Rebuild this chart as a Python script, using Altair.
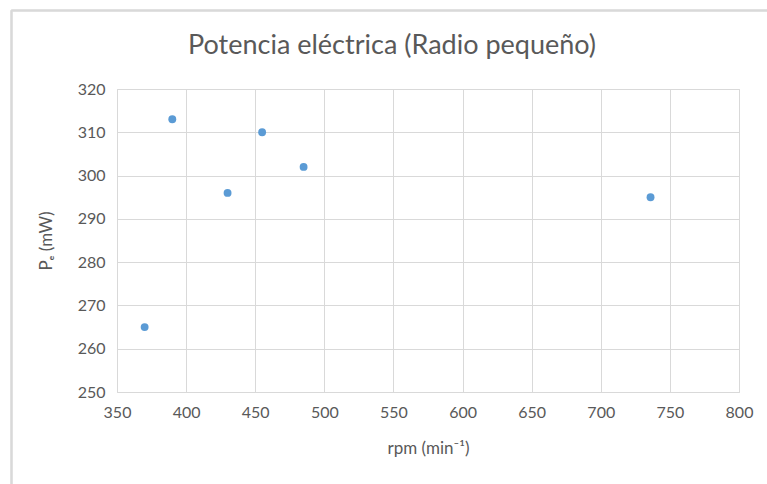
import altair as alt
import pandas as pd

rpm = [370, 390, 430, 455, 485, 736]
pe = [265, 313, 296, 310, 302, 295]

x_ticks = [350, 400, 450, 500, 550, 600, 650, 700, 750, 800]
y_ticks = [250, 260, 270, 280, 290, 300, 310, 320]

df = pd.DataFrame({"rpm": rpm, "pe": pe})

FONT = "Lato"
GRAY = "#595959"
GRID = "#d9d9d9"

points = alt.Chart(df).mark_circle(size=62, color="#5B9BD5", opacity=1).encode(
    x=alt.X("rpm:Q", scale=alt.Scale(domain=[350, 800], nice=False, zero=False),
            axis=alt.Axis(values=x_ticks, title="rpm (min⁻¹)", labelPadding=12,
                          labelFlush=False, titlePadding=20, grid=True)),
    y=alt.Y("pe:Q", scale=alt.Scale(domain=[250, 320], nice=False, zero=False),
            axis=alt.Axis(values=y_ticks, title="Pₑ (mW)", labelPadding=12,
                          titlePadding=22, grid=True)),
)

frame_left = alt.Chart(df).mark_rule(color=GRID, strokeWidth=1.5, clip=False).encode(
    x=alt.value(-105.5), y=alt.value(-78.5), y2=alt.value(420)
)
frame_top = alt.Chart(df).mark_rule(color=GRID, strokeWidth=1.5, clip=False).encode(
    x=alt.value(-105.5), x2=alt.value(700), y=alt.value(-78.5)
)

chart = alt.layer(frame_left, frame_top, points).properties(
    width=622,
    height=303,
    background="white",
    autosize=alt.AutoSizeParams(type="none"),
    padding={"left": 117, "top": 89, "right": 28, "bottom": 92},
    title=alt.TitleParams("Potencia eléctrica (Radio pequeño)", font=FONT, fontSize=27,
                          fontWeight="normal", color=GRAY, offset=0, dy=50, dx=-36,
                          anchor="middle", frame="group"),
).configure_view(stroke=GRID, strokeWidth=1).configure_axis(
    labelFont=FONT, labelFontSize=16, labelColor=GRAY, titleFont=FONT,
    titleFontSize=17, titleFontWeight="normal", titleColor=GRAY,
    gridColor=GRID, gridWidth=1, domain=False, ticks=False,
)

chart.save("out.html", embed_options={"renderer": "svg", "actions": False})
